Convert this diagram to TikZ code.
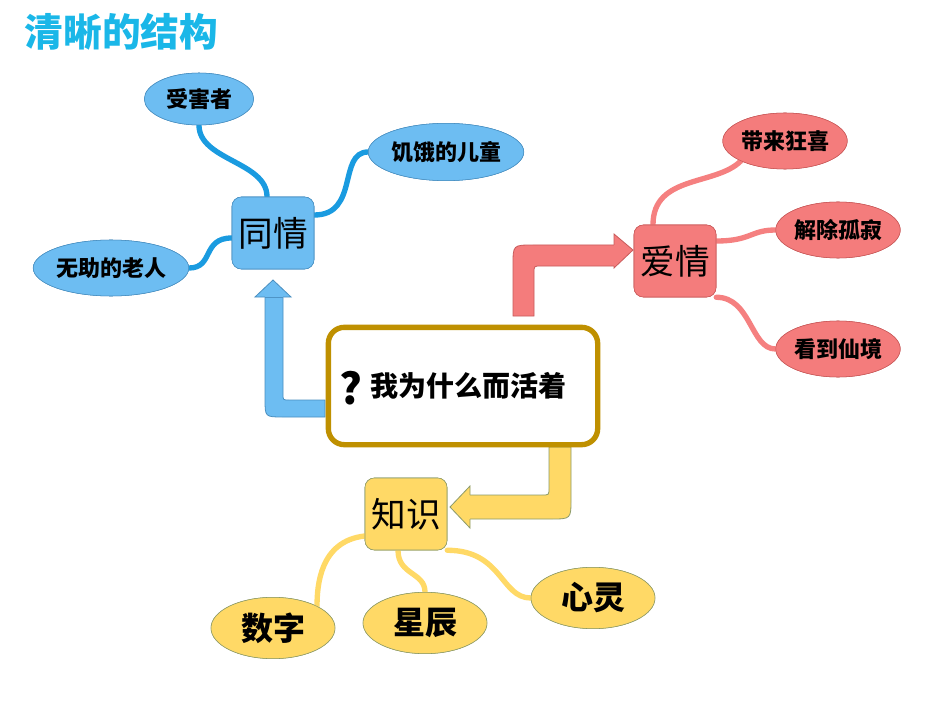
\documentclass[tikz,border=0pt]{standalone}
\usepackage{fontspec}
\setmainfont{Noto Sans CJK SC}
\usetikzlibrary{shapes.geometric}
\definecolor{bluef}{HTML}{6DBDF2}\definecolor{blued}{HTML}{4A8FC0}\definecolor{bluel}{HTML}{1A9BE0}
\definecolor{redf}{HTML}{F47C7C}\definecolor{redd}{HTML}{C85A5A}\definecolor{redl}{HTML}{F58080}
\definecolor{yelf}{HTML}{FFD966}\definecolor{yeld}{HTML}{8A9A6A}\definecolor{yell}{HTML}{FFD966}
\definecolor{gold}{HTML}{BF9000}\definecolor{titlec}{HTML}{1AB7E8}
\tikzset{
 topic/.style={rounded corners=7pt,draw=#1d,fill=#1f,minimum width=61.5pt,minimum height=54pt,inner sep=0pt,font=\fontsize{26}{28}\selectfont},
 leaf/.style={ellipse,draw=#1d,fill=#1f,inner sep=0pt,font=\fontsize{16.5}{18}\selectfont\bfseries},
 bigleaf/.style={ellipse,draw=#1d,fill=#1f,inner sep=0pt,font=\fontsize{24}{26}\selectfont\bfseries},
 link/.style={line width=4pt,draw=#1l,line cap=round},
 shaft/.style={fill=#1f,draw=#1d,line width=0.6pt},
 head/.style={fill=#1f,draw=#1d,line width=0.6pt}
}
\begin{document}
\begin{tikzpicture}[x=0.75pt,y=-0.75pt]
\path[use as bounding box,fill=white] (0,0) rectangle (950,713);
\node[anchor=west,text=titlec,font=\fontsize{29}{31}\selectfont\bfseries] (title) at (20,32) {清晰的结构};
% big arrows
\draw[shaft=blue] (325,417) -- (283,417) .. controls (265,417) .. (265,399) -- (265,297.5) -- (283,297.5) -- (283,394) .. controls (283,400) .. (289,400) -- (325,400) -- cycle;
\draw[head=blue] (265,297) -- (255,297) -- (273,280) -- (291,297) -- (283,297);
\draw[shaft=red] (513,316) -- (513,265) .. controls (513,245) .. (533,245) -- (614.5,245) -- (614.5,266) -- (541,266) .. controls (534,266) .. (534,273) -- (534,316) -- cycle;
\draw[head=red] (614,245) -- (614,234) -- (633,250) -- (614,268) -- (614,266);
\draw[shaft=yel] (549,447) -- (549,488) .. controls (549,495) .. (542,495) -- (469.5,495) -- (469.5,519) -- (551,519) .. controls (571,519) .. (571,499) -- (571,447) -- cycle;
\draw[head=yel] (470,495) -- (470,486) -- (450,507) -- (470,528) -- (470,519);
% center
\node[draw=gold,line width=4pt,rounded corners=12pt,fill=white,minimum width=202pt,minimum height=88pt] (c) at (463,386) {};
\node[font=\fontsize{32}{32}\selectfont\bfseries] (q) at (351,388) {?};
\node[anchor=west,font=\fontsize{21}{23}\selectfont\bfseries] (ct) at (366,386) {我为什么而活着};
% topics
\node[topic=blue] (tq) at (273,233) {同情};
\node[topic=red] (aq) at (675,261) {爱情};
\node[topic=yel] (zs) at (406,514) {知识};
% leaves
\node[leaf=blue,minimum width=82pt,minimum height=39pt] (l1) at (199,99) {受害者};
\node[leaf=blue,minimum width=102pt,minimum height=43pt] (l2) at (446,152) {饥饿的儿童};
\node[leaf=blue,minimum width=99pt,minimum height=42pt] (l3) at (111,268) {无助的老人};
\node[leaf=red,minimum width=93pt,minimum height=42pt] (r1) at (785,141) {带来狂喜};
\node[leaf=red,minimum width=88pt,minimum height=42pt] (r2) at (838,230) {解除孤寂};
\node[leaf=red,minimum width=88pt,minimum height=42pt] (r3) at (838,349) {看到仙境};
\node[bigleaf=yel,minimum width=93pt,minimum height=46pt] (y1) at (273,628) {数字};
\node[bigleaf=yel,minimum width=93pt,minimum height=46pt] (y2) at (425,623) {星辰};
\node[bigleaf=yel,minimum width=93pt,minimum height=46pt] (y3) at (593,598) {心灵};
% links
\draw[link=blue] (tq.north) ++(-6,0) .. controls +(0,-35) and +(0,35) .. (l1.south);
\draw[link=blue] (tq.east) ++(0,-18) .. controls +(45,0) and +(-30,0) .. (l2.west);
\draw[link=blue] (tq.west) ++(0,5) .. controls +(-30,0) and +(25,0) .. (l3.east);
\draw[link=red] (aq.north) ++(-22,0) .. controls +(0,-50) and +(-25,25) .. (r1.south west);
\draw[link=red] (aq.east) ++(0,-20) .. controls +(35,0) and +(-25,0) .. (r2.west);
\draw[link=red] (aq.south east) .. controls +(35,0) and +(-25,0) .. (r3.west);
\draw[link=yel] (zs.west) ++(0,22) .. controls +(-45,5) and +(0,-20) .. (y1.north east);
\draw[link=yel] (zs.south) ++(-8,0) .. controls +(0,25) and +(0,-20) .. (y2.north);
\draw[link=yel] (zs.south east) .. controls +(55,0) and +(-30,0) .. (y3.west);
% redraw nodes over links
\node[topic=blue] at (tq) {同情};
\node[topic=red] at (aq) {爱情};
\node[topic=yel] at (zs) {知识};
\node[leaf=blue,minimum width=82pt,minimum height=39pt] at (l1) {受害者};
\node[leaf=blue,minimum width=102pt,minimum height=43pt] at (l2) {饥饿的儿童};
\node[leaf=blue,minimum width=99pt,minimum height=42pt] at (l3) {无助的老人};
\node[leaf=red,minimum width=93pt,minimum height=42pt] at (r1) {带来狂喜};
\node[leaf=red,minimum width=88pt,minimum height=42pt] at (r2) {解除孤寂};
\node[leaf=red,minimum width=88pt,minimum height=42pt] at (r3) {看到仙境};
\node[bigleaf=yel,minimum width=93pt,minimum height=46pt] at (y1) {数字};
\node[bigleaf=yel,minimum width=93pt,minimum height=46pt] at (y2) {星辰};
\node[bigleaf=yel,minimum width=93pt,minimum height=46pt] at (y3) {心灵};
\end{tikzpicture}
\end{document}
